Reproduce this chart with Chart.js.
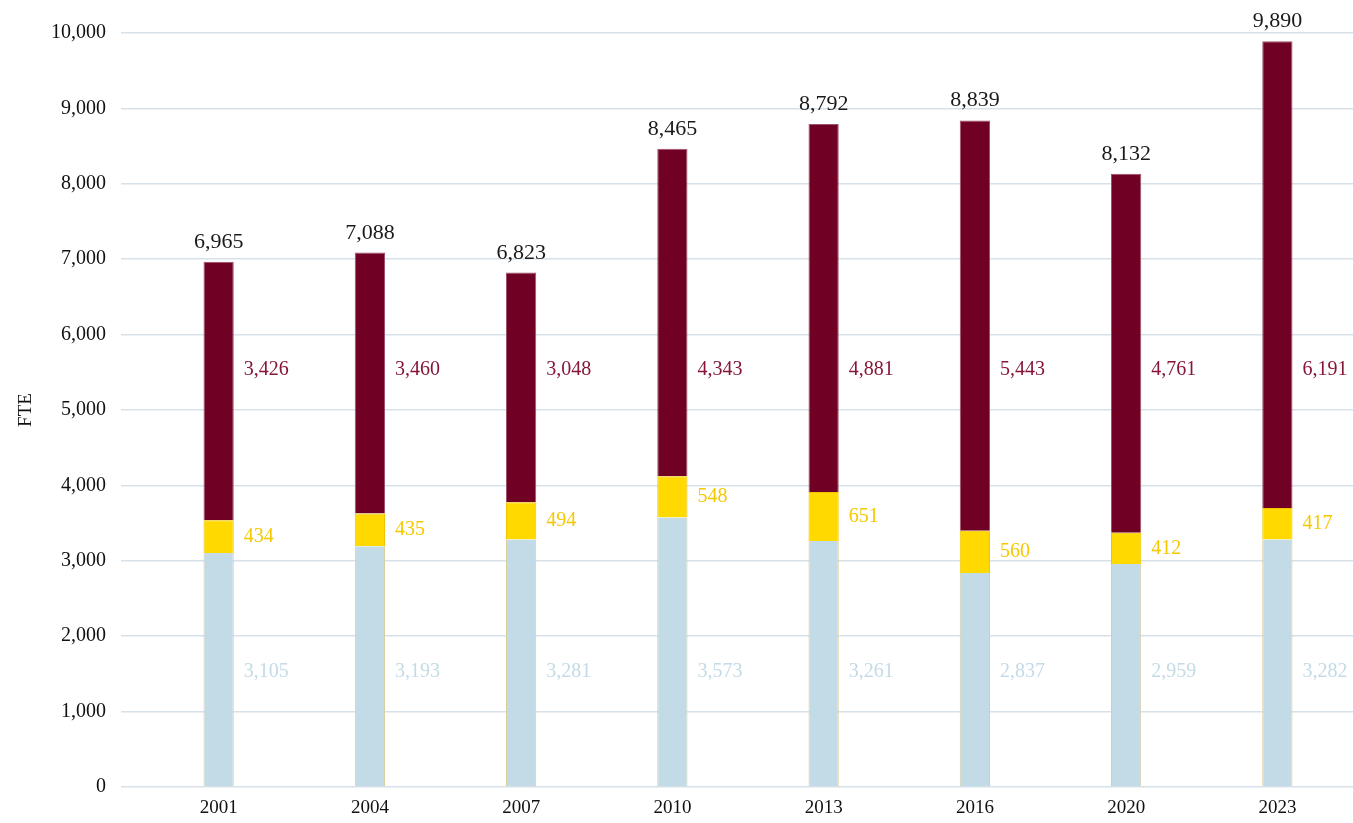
<!DOCTYPE html>
<html lang="en">
<head>
    <meta charset="UTF-8">
    <title>FTE by year</title>
    <style>
        html, body {
            margin: 0;
            padding: 0;
            background-color: #ffffff;
        }
        .chart-container {
            position: relative;
            width: 1353px;
            height: 823px;
        }
    </style>
    <script src="https://cdn.jsdelivr.net/npm/chart.js"></script>
</head>
<body>
    <div class="chart-container">
        <canvas id="fteChart"></canvas>
    </div>

    <script>
        const years = ['2001', '2004', '2007', '2010', '2013', '2016', '2020', '2023'];
        const seriesBottom = [3105, 3193, 3281, 3573, 3261, 2837, 2959, 3282];
        const seriesMiddle = [434, 435, 494, 548, 651, 560, 412, 417];
        const seriesTop = [3426, 3460, 3048, 4343, 4881, 5443, 4761, 6191];
        const totals = [6965, 7088, 6823, 8465, 8792, 8839, 8132, 9890];
        const yTicks = [0, 1000, 2000, 3000, 4000, 5000, 6000, 7000, 8000, 9000, 10000];

        const FONT = "'Liberation Serif', 'DejaVu Serif', serif";
        const fmt = v => v.toLocaleString('en-US');

        // value labels: totals above bars, segment values to the right of each bar
        const valueLabels = {
            id: 'valueLabels',
            afterDatasetsDraw(chart) {
                const ctx = chart.ctx;
                const y = chart.scales.y;
                ctx.save();
                ctx.textBaseline = 'middle';
                ctx.textAlign = 'left';
                ctx.font = '20px ' + FONT;

                chart.data.datasets.forEach((ds, di) => {
                    const meta = chart.getDatasetMeta(di);
                    meta.data.forEach((bar, i) => {
                        const x = bar.x + bar.width / 2 + 10;
                        let ly;
                        if (di === 0) ly = y.getPixelForValue(1525);
                        else if (di === 1) ly = (bar.y + bar.base) / 2;
                        else ly = y.getPixelForValue(5540);
                        ctx.fillStyle = ds.labelColor;
                        ctx.fillText(fmt(ds.data[i]), x, ly);
                    });
                });

                const topMeta = chart.getDatasetMeta(2);
                ctx.font = '22px ' + FONT;
                ctx.textAlign = 'center';
                ctx.textBaseline = 'alphabetic';
                ctx.fillStyle = '#1a1a1a';
                topMeta.data.forEach((bar, i) => {
                    ctx.fillText(fmt(totals[i]), bar.x, bar.y - 14);
                });
                ctx.restore();
            }
        };

        new Chart(document.getElementById('fteChart').getContext('2d'), {
            type: 'bar',
            data: {
                labels: years,
                datasets: [{
                    data: seriesBottom,
                    backgroundColor: '#c3dbe7',
                    borderColor: '#d8cf9e',
                    borderWidth: {left: 1, right: 1, top: 0, bottom: 0},
                    labelColor: '#c3dbe7'
                }, {
                    data: seriesMiddle,
                    backgroundColor: '#ffd900',
                    borderColor: '#f0c400',
                    borderWidth: 1,
                    labelColor: '#f5c800'
                }, {
                    data: seriesTop,
                    backgroundColor: '#710025',
                    borderColor: '#a0506a',
                    borderWidth: {left: 1, right: 1, top: 1, bottom: 0},
                    labelColor: '#861638'
                }]
            },
            options: {
                responsive: true,
                maintainAspectRatio: false,
                animation: false,
                layout: {
                    padding: {top: 33, right: 0, bottom: 0, left: 0}
                },
                datasets: {
                    bar: {
                        barPercentage: 1,
                        categoryPercentage: 0.2
                    }
                },
                plugins: {
                    legend: { display: false },
                    tooltip: { enabled: false }
                },
                scales: {
                    x: {
                        stacked: true,
                        afterFit(scale) {
                            scale.height = 36;
                        },
                        grid: { display: false, drawTicks: false },
                        border: { display: false },
                        ticks: {
                            padding: 10,
                            color: '#111111',
                            font: { family: FONT, size: 19 }
                        }
                    },
                    y: {
                        stacked: true,
                        min: 0,
                        max: 10000,
                        afterBuildTicks(scale) {
                            scale.ticks = yTicks.map(v => ({ value: v }));
                        },
                        afterFit(scale) {
                            scale.width = 143;
                        },
                        grid: {
                            color: '#d6e1ea',
                            lineWidth: 1.5,
                            tickLength: 22,
                            drawTicks: true
                        },
                        border: { display: false },
                        ticks: {
                            padding: 15,
                            color: '#111111',
                            font: { family: FONT, size: 20 },
                            callback: v => fmt(v)
                        },
                        title: {
                            display: true,
                            text: 'FTE',
                            color: '#111111',
                            font: { family: FONT, size: 19 },
                            padding: { top: 15, bottom: 0 }
                        }
                    }
                }
            },
            plugins: [valueLabels]
        });
    </script>
</body>
</html>
